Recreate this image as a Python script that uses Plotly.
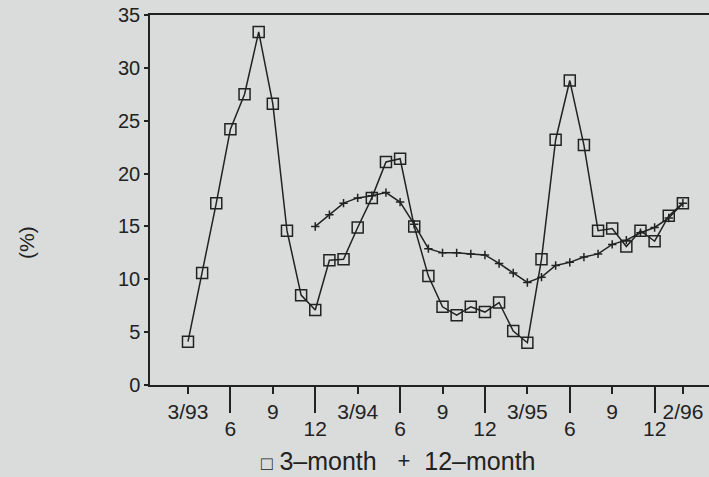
import plotly.graph_objects as go

# ---- data ----
month_index_3m = list(range(36))          # 3/93 ... 2/96, monthly
three_month = [4.1, 10.6, 17.2, 24.2, 27.5, 33.4, 26.6, 14.6, 8.5, 7.1,
               11.8, 11.9, 14.9, 17.7, 21.1, 21.4, 15.0, 10.3, 7.4, 6.6,
               7.4, 6.9, 7.8, 5.1, 4.0, 11.9, 23.2, 28.8, 22.7, 14.6,
               14.8, 13.1, 14.6, 13.6, 16.0, 17.2]

month_index_12m = list(range(9, 36))      # 12/93 ... 2/96
twelve_month = [15.0, 16.1, 17.2, 17.7, 17.9, 18.2, 17.3, 15.2, 12.9, 12.5,
                12.5, 12.4, 12.3, 11.5, 10.6, 9.7, 10.2, 11.3, 11.6, 12.1,
                12.4, 13.3, 13.7, 14.4, 14.9, 15.8, 17.2]

upper_tick_months = [0, 6, 12, 18, 24, 30, 35]
upper_tick_labels = ["3/93", "9", "3/94", "9", "3/95", "9", "2/96"]
lower_tick_months = [3, 9, 15, 21, 27, 33]
lower_tick_labels = ["6", "12", "6", "12", "6", "12"]

y_ticks = [0, 5, 10, 15, 20, 25, 30, 35]

INK = "#222222"
BG = "#d9dcdb"
FONT = "Liberation Sans, Arial, sans-serif"
NB = "\u00a0"

fig = go.Figure()
fig.add_trace(go.Scatter(
    x=month_index_12m, y=twelve_month, mode="lines+markers",
    line=dict(color=INK, width=1.5),
    marker=dict(symbol="cross-thin-open", size=6, line=dict(color=INK, width=1.5)),
    showlegend=False, name="12-month"))
fig.add_trace(go.Scatter(
    x=month_index_3m, y=three_month, mode="lines+markers",
    line=dict(color=INK, width=1.5),
    marker=dict(symbol="square-open", size=11, color=INK, line=dict(color=INK, width=1.5)),
    showlegend=False, name="3-month"))

# invisible trace to activate the long-tick axis
fig.add_trace(go.Scatter(x=[None], y=[None], xaxis="x2", showlegend=False))

data_range = [-2.687, 36.846]

fig.update_layout(
    width=709, height=477,
    margin=dict(l=150, r=0, t=15, b=92),
    paper_bgcolor=BG, plot_bgcolor=BG,
    font=dict(family=FONT, size=20, color=INK),
    xaxis=dict(range=data_range, showline=True, mirror=True, linecolor=INK,
               linewidth=1.5, showgrid=False, zeroline=False,
               tickmode="array", tickvals=upper_tick_months,
               ticktext=upper_tick_labels, ticks="outside", ticklen=7,
               tickwidth=1.5, tickcolor=INK, ticklabelstandoff=0,
               tickfont=dict(family=FONT, size=21, color=INK)),
    xaxis2=dict(overlaying="x", anchor="y", side="bottom", range=data_range,
                tickmode="array", tickvals=lower_tick_months,
                ticktext=lower_tick_labels, ticks="outside", ticklen=27,
                tickwidth=1.5, tickcolor=INK, showline=False, showgrid=False,
                zeroline=False, ticklabelstandoff=-2,
                tickfont=dict(family=FONT, size=21, color=INK)),
    yaxis=dict(range=[0, 35], tickmode="array", tickvals=y_ticks,
               ticks="outside", ticklen=4, tickwidth=1.5, tickcolor=INK,
               showline=True, linecolor=INK, linewidth=1.5,
               showgrid=False, zeroline=False,
               tickfont=dict(family=FONT, size=20, color=INK)),
    annotations=[
        dict(text="(%)", textangle=-90, xref="paper", yref="paper",
             x=(27 - 150) / 559, y=(385 - 243) / 370, showarrow=False,
             xanchor="center", yanchor="middle",
             font=dict(family=FONT, size=21, color=INK)),
        dict(text="<span style='font-size:19px'>□</span>" + NB + "3–month"
                  + NB * 3
                  + "<span style='font-size:22px;baseline-shift:2px'>+</span>"
                  + NB * 2 + "12–month",
             xref="paper", yref="paper", x=(398 - 150) / 559,
             y=-(461 - 385) / 370, showarrow=False,
             xanchor="center", yanchor="middle",
             font=dict(family=FONT, size=25, color=INK)),
    ],
)

fig.write_html("out.html",
               config={"displayModeBar": False},
               post_script="document.body.style.margin='0';"
                           "document.body.style.background='%s';" % BG)
